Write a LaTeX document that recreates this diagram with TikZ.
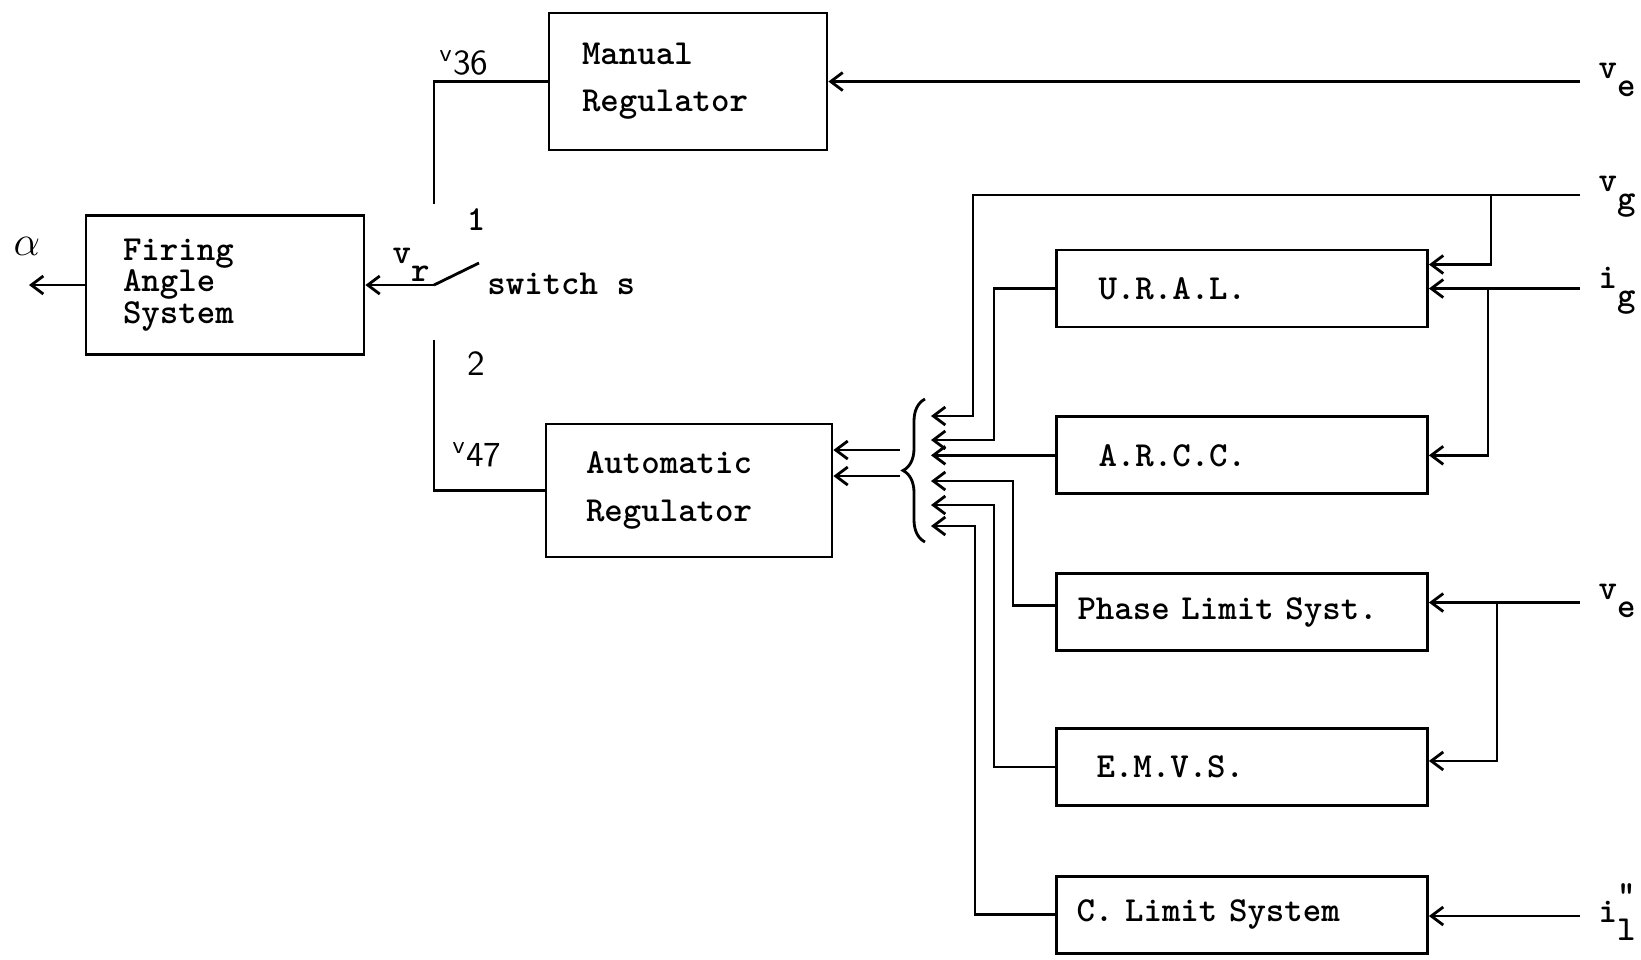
\documentclass[tikz,border=0pt]{standalone}
\usepackage{tikz}
\usetikzlibrary{arrows.meta,positioning,decorations.pathreplacing}
\newcommand{\sigl}[2]{\texttt{#1}\raisebox{-5pt}{\texttt{#2}}}
\tikzset{
  block/.style={
    draw,
    line width=0.8pt,
    align=left,
    inner ysep=0pt,
    font=\ttfamily\bfseries
  },
  sigarrow/.style={
    -{Straight Barb[length=1.2mm,width=1.8mm]},
    line width=0.8pt
  },
  wire/.style={
    line width=0.8pt
  },
  sigtext/.style={
    anchor=west,
    inner sep=0pt,
    font=\ttfamily\bfseries
  }
}

\begin{document}
\begin{tikzpicture}[x=0.1mm, y=-0.1mm]
    \useasboundingbox (0,0) rectangle (1641,959);
    \node[block, minimum height=13.9mm, inner xsep=3.7mm, text width=20.4mm,
      font=\ttfamily\bfseries\fontsize{10}{9}\selectfont] (fas) at (225,285) {Firing\\Angle\\System};
    \node[block, minimum height=13.7mm, inner xsep=3.3mm, text width=21.2mm,
      font=\ttfamily\bfseries\fontsize{10}{13.4}\selectfont] (man) at (688,81.5) {Manual\\Regulator};
    \node[block, minimum height=13.3mm, inner xsep=4.0mm, text width=20.6mm,
      font=\ttfamily\bfseries\fontsize{10}{13.9}\selectfont] (auto) at (689,490.5) {Automatic\\Regulator};
    \node[block, minimum height=7.7mm, inner xsep=4.2mm, text width=28.7mm] (ural) at (1242,288.5) {U.R.A.L.};
    \node[block, minimum height=7.7mm, inner xsep=4.2mm, text width=28.7mm, below=8.7mm of ural] (arcc) {A.R.C.C.};
    \node[block, minimum height=7.7mm, inner xsep=2.1mm, text width=32.9mm, below=7.7mm of arcc] (pls) {Phase Limit Syst.};
    \node[block, minimum height=7.7mm, inner xsep=4.0mm, text width=29.1mm, below=7.5mm of pls] (emvs) {E.M.V.S.};
    \node[block, minimum height=7.7mm, inner xsep=2.0mm, text width=33.1mm, below=6.8mm of emvs] (cls) {C. Limit System};

    \coordinate (aout) at (29,285);
    \coordinate (c1) at (434,204);
    \coordinate (c2) at (434,340);
    \coordinate (pivot) at (434,285);
    \coordinate (blade) at (479,263);
    \coordinate (ve1in) at (1580,81.5);
    \coordinate (vgin) at (1580,195);
    \coordinate (igin) at (1580,288.5);
    \coordinate (ve2in) at (1580,602.5);
    \coordinate (ilin) at (1580,916);
    \coordinate (brbot) at (925,542);
    \coordinate (brtop) at (925,399);
    \coordinate (ao1) at (900,450);
    \coordinate (ao2) at (900,476);
    \foreach \n/\y in {1/416,2/440,3/458,4/481,5/505,6/526}
      \coordinate (m\n) at (931,\y);

    \node[font=\large] (alpha) at (27,246) {$\alpha$};
    \node[font=\bfseries] (vr) at (411,265) {\sigl{v}{r}};
    \node[font=\sffamily] (v36) at (464,63) {\textsuperscript{v}36};
    \node[font=\sffamily] (v47) at (477,455) {\textsuperscript{v}47};
    \node[font=\ttfamily\bfseries] (pos1) at (476,220) {1};
    \node[font=\sffamily] (pos2) at (476,364) {2};
    \node[font=\ttfamily\bfseries, anchor=west] (sws) at (475,284) {switch s};
    \node[sigtext] (lve1) at (1598,80) {\sigl{v}{e}};
    \node[sigtext] (lvg) at (1598,197) {\sigl{v}{g}};
    \node[sigtext] (lig) at (1598,291) {\sigl{i}{g}};
    \node[sigtext] (lve2) at (1598,601) {\sigl{v}{e}};
    \node[sigtext] (lil) at (1598,912) {\texttt{i}\rlap{\raisebox{5pt}{\texttt{"}}}\raisebox{-5pt}{\texttt{l}}};

    \draw[sigarrow] (fas.west) -- (aout);
    \draw[sigarrow] (pivot) -- (fas.east);
    \draw[wire] (pivot) -- (blade);
    \draw[wire] (man.west) -| (c1);
    \draw[wire] (c2) |- (auto.west);
    \draw[sigarrow] (ve1in) -- (man.east);

    \draw[wire, decorate, decoration={brace, amplitude=2.2mm}] (brbot) -- (brtop);
    \draw[sigarrow] (ao1) -- (ao1 -| auto.east);
    \draw[sigarrow] (ao2) -- (ao2 -| auto.east);

    \draw[sigarrow] (vgin) -| ([xshift=4.2mm]m1) -- (m1);
    \draw[sigarrow] (ural.west) -| ([xshift=6.3mm]m2) -- (m2);
    \draw[sigarrow] (arcc.west) -- (arcc.west -| m3);
    \draw[sigarrow] ([yshift=0.7mm]pls.west) -| ([xshift=8.2mm]m4) -- (m4);
    \draw[sigarrow] (emvs.west) -| ([xshift=6.3mm]m5) -- (m5);
    \draw[sigarrow] (cls.west) -| ([xshift=4.4mm]m6) -- (m6);

    \draw[sigarrow] ([xshift=-8.9mm]vgin) |- ([yshift=2.4mm]ural.east);
    \draw[sigarrow] (igin) -- (ural.east);
    \draw[sigarrow] ([xshift=-9.2mm]igin) |- (arcc.east);
    \draw[sigarrow] (ve2in) -- (ve2in -| pls.east);
    \draw[sigarrow] ([xshift=-8.3mm]ve2in) |- ([yshift=0.6mm]emvs.east);
    \draw[sigarrow] (ilin) -- (ilin -| cls.east);
  \end{tikzpicture}
\end{document}
